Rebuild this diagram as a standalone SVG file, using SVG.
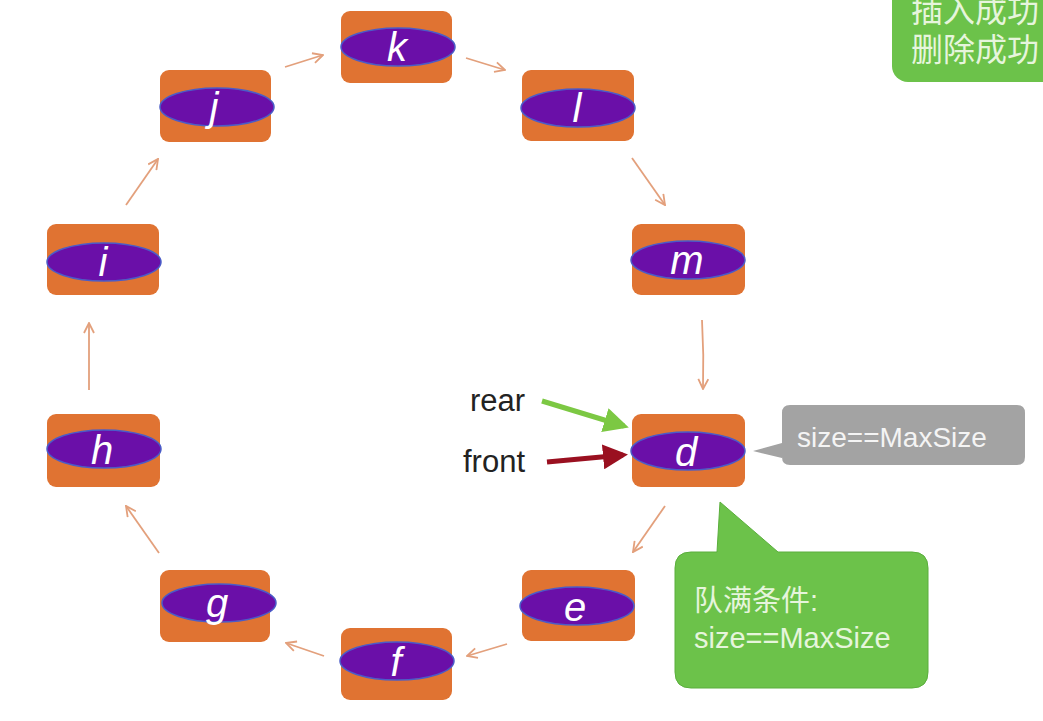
<svg xmlns="http://www.w3.org/2000/svg" width="1043" height="721" viewBox="0 0 1043 721">
<defs>
<style>
.box{fill:#e07332;}
.ell{fill:#6a0fa8;stroke:#4a5cc8;stroke-width:1.5;}
.lbl{font-family:"Liberation Sans",Arial,sans-serif;font-style:italic;font-size:40px;fill:#ffffff;text-anchor:middle;}
.con{stroke:#e3a07c;stroke-width:1.8;fill:none;marker-end:url(#ah);}
.t{font-family:"Liberation Sans",Arial,sans-serif;font-size:31px;fill:#222;}
.w{font-family:"Liberation Sans","Noto Sans CJK SC",sans-serif;fill:#e6f5dc;}
.wg{font-family:"Liberation Sans",Arial,sans-serif;fill:#f4f4f4;}
</style>
<marker id="ah" viewBox="0 0 12 12" refX="11" refY="6" markerWidth="12" markerHeight="12" markerUnits="userSpaceOnUse" orient="auto">
<path d="M1,1 L11,6 L1,11" fill="none" stroke="#e3a07c" stroke-width="1.8"/>
</marker>
<marker id="ahg" viewBox="0 0 10 10" refX="8" refY="5" markerWidth="5" markerHeight="5" orient="auto">
<path d="M0,0 L10,5 L0,10 z" fill="#7cc843"/>
</marker>
<marker id="ahr" viewBox="0 0 10 10" refX="8" refY="5" markerWidth="5" markerHeight="5" orient="auto">
<path d="M0,0 L10,5 L0,10 z" fill="#9a1020"/>
</marker>
</defs>
<rect width="1043" height="721" fill="#ffffff"/>

<g id="callout-top">
<rect x="892" y="-20" width="170" height="102" rx="16" fill="#6cc24a"/>
<text class="w" x="911" y="22" font-size="32">插入成功</text>
<text class="w" x="911" y="61" font-size="32">删除成功</text>
</g>

<g id="connectors">
<line class="con" x1="285" y1="67" x2="323" y2="55"/>
<line class="con" x1="466" y1="58" x2="505" y2="70"/>
<line class="con" x1="632" y1="158" x2="665" y2="205"/>
<path class="con" d="M702,320 Q704,355 703,389"/>
<line class="con" x1="665" y1="506" x2="633" y2="552"/>
<line class="con" x1="507" y1="644" x2="467" y2="656"/>
<line class="con" x1="324" y1="656" x2="286" y2="643"/>
<line class="con" x1="159" y1="553" x2="126" y2="506"/>
<line class="con" x1="89" y1="390" x2="89" y2="323"/>
<line class="con" x1="126" y1="205" x2="158" y2="159"/>
<line x1="542" y1="401" x2="624" y2="426" stroke="#7cc843" stroke-width="5" marker-end="url(#ahg)"/>
<line x1="547" y1="462" x2="623" y2="455" stroke="#9a1020" stroke-width="5" marker-end="url(#ahr)"/>
</g>

<g id="node-k"><rect class="box" x="341" y="11" width="111" height="72" rx="9"/><ellipse class="ell" cx="398" cy="47" rx="57" ry="19"/><text class="lbl" x="397" y="61">k</text></g>
<g id="node-l"><rect class="box" x="522" y="70" width="112" height="71" rx="9"/><ellipse class="ell" cx="578" cy="108" rx="57" ry="19"/><text class="lbl" x="577" y="122">l</text></g>
<g id="node-j"><rect class="box" x="160" y="70" width="111" height="72" rx="9"/><ellipse class="ell" cx="217" cy="107" rx="57" ry="19"/><text class="lbl" x="214" y="121">j</text></g>
<g id="node-m"><rect class="box" x="632" y="224" width="113" height="71" rx="9"/><ellipse class="ell" cx="688" cy="260" rx="57" ry="19"/><text class="lbl" x="687" y="274">m</text></g>
<g id="node-i"><rect class="box" x="47" y="224" width="112" height="71" rx="9"/><ellipse class="ell" cx="104" cy="262" rx="57" ry="19"/><text class="lbl" x="103" y="276">i</text></g>
<g id="node-h"><rect class="box" x="47" y="414" width="113" height="73" rx="9"/><ellipse class="ell" cx="104" cy="449" rx="57" ry="19"/><text class="lbl" x="102" y="464">h</text></g>
<g id="node-d"><rect class="box" x="632" y="414" width="113" height="73" rx="9"/><ellipse class="ell" cx="688" cy="451" rx="57" ry="19"/><text class="lbl" x="686" y="466">d</text></g>
<g id="node-g"><rect class="box" x="160" y="570" width="110" height="72" rx="9"/><ellipse class="ell" cx="219" cy="603" rx="57" ry="19"/><text class="lbl" x="217" y="617">g</text></g>
<g id="node-e"><rect class="box" x="522" y="570" width="113" height="71" rx="9"/><ellipse class="ell" cx="577" cy="606" rx="57" ry="19"/><text class="lbl" x="575" y="621">e</text></g>
<g id="node-f"><rect class="box" x="341" y="628" width="111" height="72" rx="9"/><ellipse class="ell" cx="397" cy="661" rx="57" ry="19"/><text class="lbl" x="396" y="676">f</text></g>

<g id="label-rear"><text class="t" x="470" y="411">rear</text></g>
<g id="label-front"><text class="t" x="463" y="472">front</text></g>

<g id="callout-gray">
<path d="M790,405 H1017 Q1025,405 1025,413 V457 Q1025,465 1017,465 H790 Q782,465 782,457 V458 L753,451 L782,443 V413 Q782,405 790,405 Z" fill="#a3a3a3"/>
<text class="wg" x="797" y="447" font-size="28">size==MaxSize</text>
</g>

<g id="callout-green">
<path d="M691,552 H717 L720,502 L778,552 H912 Q928,552 928,568 V672 Q928,688 912,688 H691 Q675,688 675,672 V568 Q675,552 691,552 Z" fill="#6cc24a" stroke="#5aae3c" stroke-width="1"/>
<text class="w" x="694" y="611" font-size="29">队满条件:</text>
<text class="w" x="694" y="648" font-size="29">size==MaxSize</text>
</g>
</svg>
